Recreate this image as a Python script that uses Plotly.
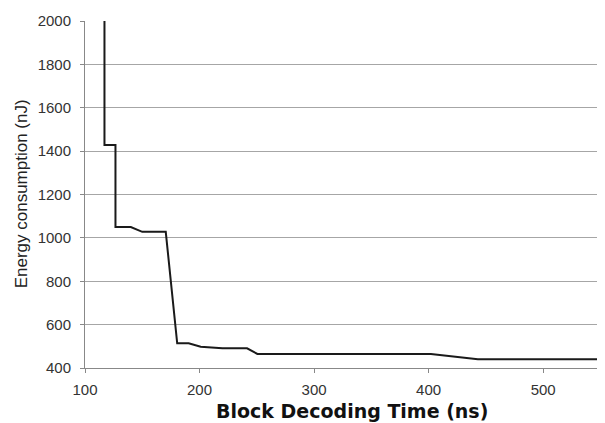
import plotly.graph_objects as go

# Block decoding time (ns) vs energy consumption (nJ)
time_ns = [117, 117, 126.6, 126.6, 140, 150, 170.5, 180.5, 190.5, 201, 220, 241.5, 250.5, 402, 443, 554]
energy_nj = [2000, 1428, 1428, 1050, 1050, 1028, 1028, 514, 514, 498, 491, 491, 465, 465, 440, 440]

x_ticks = [100, 200, 300, 400, 500]
y_ticks = [400, 600, 800, 1000, 1200, 1400, 1600, 1800, 2000]

fig = go.Figure()
fig.add_trace(go.Scatter(
    x=time_ns, y=energy_nj, mode="lines",
    line=dict(color="#1a1a1a", width=2),
    showlegend=False, hoverinfo="skip",
))

fig.update_layout(
    width=597, height=415,
    margin=dict(l=77, r=0, t=13, b=55),
    paper_bgcolor="white", plot_bgcolor="white",
    font=dict(family="Liberation Sans, Arial, sans-serif", color="#333333"),
    xaxis=dict(
        range=[100, 554], tickvals=x_ticks, ticks="outside", ticklen=4,
        tickcolor="#888888", showgrid=False, showline=True,
        linecolor="#888888", linewidth=1, zeroline=False,
        tickfont=dict(size=15, color="#333333"), ticklabelstandoff=4,
    ),
    yaxis=dict(
        range=[400, 2000], tickvals=y_ticks, ticks="outside", ticklen=4,
        tickcolor="#888888", showgrid=True, gridcolor="#a6a6a6", gridwidth=1,
        showline=True, linecolor="#888888", linewidth=1, zeroline=False,
        tickfont=dict(size=15, color="#333333"), ticklabelstandoff=6,
    ),
    annotations=[
        dict(text="Block Decoding Time (ns)", xref="paper", yref="paper",
             x=0.513, y=-0.124, xanchor="center", yanchor="middle",
             showarrow=False,
             font=dict(family="DejaVu Sans", size=19, color="#111111", weight="bold")),
        dict(text="Energy consumption (nJ)", xref="paper", yref="paper",
             x=-0.122, y=0.502, xanchor="center", yanchor="middle",
             textangle=-90, showarrow=False,
             font=dict(family="Liberation Sans, Arial", size=17, color="#222222")),
    ],
)

fig.write_html("out.html")
